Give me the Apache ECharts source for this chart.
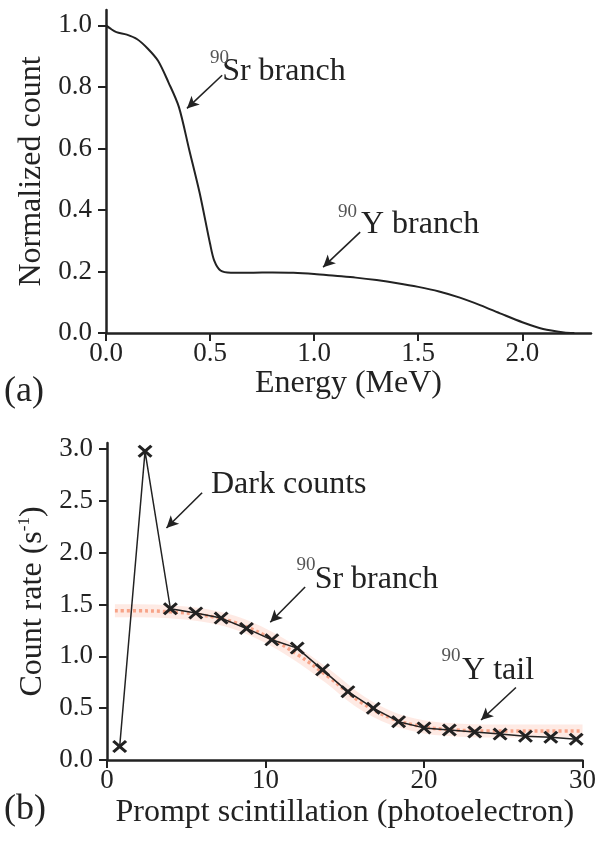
<!DOCTYPE html>
<html>
<head>
<meta charset="utf-8">
<script src="https://cdn.jsdelivr.net/npm/echarts@6/dist/echarts.min.js"></script>
<style>
  html, body { margin: 0; padding: 0; background: #fff; }
  #chart { width: 599px; height: 842px; }
</style>
</head>
<body>
<div id="chart"></div>
<script>
// (a) beta spectrum
const energy = [0, 0.02, 0.05, 0.1, 0.15, 0.2, 0.25, 0.3, 0.35, 0.4, 0.45, 0.5, 0.52, 0.55, 0.6, 0.7, 0.8, 0.9, 1.0, 1.1, 1.2, 1.3, 1.4, 1.5, 1.6, 1.7, 1.8, 1.9, 2.0, 2.1, 2.2, 2.25]
const normCount = [1.0, 0.99, 0.978, 0.97, 0.955, 0.925, 0.885, 0.815, 0.735, 0.595, 0.455, 0.29, 0.235, 0.203, 0.196, 0.196, 0.197, 0.196, 0.192, 0.186, 0.18, 0.172, 0.162, 0.15, 0.135, 0.115, 0.09, 0.062, 0.035, 0.013, 0.002, 0]
const energyTicks = [0, 0.5, 1.0, 1.5, 2.0]
const countTicks = [0, 0.2, 0.4, 0.6, 0.8, 1.0]

// (b) measured count rate
const pe = [0.8, 2.4, 4.0, 5.6, 7.2, 8.8, 10.4, 12.0, 13.6, 15.2, 16.8, 18.4, 20.0, 21.6, 23.2, 24.8, 26.4, 28.0, 29.6]
const rate = [0.13, 2.98, 1.46, 1.42, 1.37, 1.27, 1.16, 1.08, 0.87, 0.66, 0.50, 0.37, 0.31, 0.29, 0.27, 0.25, 0.23, 0.22, 0.20]
// fitted curve (orange band)
const fitX = [0.5, 2, 4, 6, 8, 10, 12, 14, 16, 18, 20, 22, 24, 26, 28, 30]
const fitY = [1.44, 1.44, 1.43, 1.40, 1.33, 1.20, 1.02, 0.80, 0.56, 0.40, 0.32, 0.29, 0.28, 0.28, 0.28, 0.28]
const rateTicks = [0, 0.5, 1.0, 1.5, 2.0, 2.5, 3.0]

// annotations: [grid, sup, text, textPos, supPos, arrowFrom, arrowTo]
const notes = [
  [0, '90', 'Sr branch', [0.558, 0.849], [0.50, 0.895], [0.558, 0.838], [0.389, 0.73]],
  [0, '90', 'Y branch', [1.225, 0.351], [1.115, 0.393], [1.221, 0.328], [1.043, 0.214]],
  [1, '', 'Dark counts', [6.56, 2.66], null, [6.0, 2.58], [3.75, 2.24]],
  [1, '90', 'Sr branch', [13.1, 1.74], [11.95, 1.885], [12.5, 1.67], [10.3, 1.33]],
  [1, '90', 'Y tail', [22.4, 0.86], [21.1, 1.005], [25.8, 0.70], [23.6, 0.386]]
]

const FONT = '"Liberation Serif", "DejaVu Serif", serif'
const INK = '#222'
const crossPath = 'path://M0,3 L3,0 L10,7 L17,0 L20,3 L13,10 L20,17 L17,20 L10,13 L3,20 L0,17 L7,10 Z'

const chart = echarts.init(document.getElementById('chart'))

const axisCommon = {
  axisLine: { show: true, onZero: false, lineStyle: { color: INK, width: 2.5 } },
  axisTick: { show: true, inside: false, length: 8, lineStyle: { color: INK, width: 2 } },
  splitLine: { show: false },
  nameLocation: 'middle',
  nameTextStyle: { fontFamily: FONT, fontSize: 32, color: INK }
}
const labelStyle = { fontFamily: FONT, fontSize: 27, color: INK }

const arrowLines = (g) => notes.filter(n => n[0] === g).map(n => [{ coord: n[5] }, { coord: n[6] }])

const option = {
  animation: false,
  grid: [
    { left: 106, top: 10, width: 485, height: 323 },
    { left: 107, top: 443, width: 480, height: 317 }
  ],
  xAxis: [
    Object.assign({}, axisCommon, {
      gridIndex: 0, type: 'value', min: 0, max: 2.33,
      name: 'Energy (MeV)', nameGap: 33,
      axisTick: Object.assign({}, axisCommon.axisTick, { customValues: energyTicks }),
      axisLabel: Object.assign({}, labelStyle, { customValues: energyTicks, margin: 7, formatter: v => v.toFixed(1) })
    }),
    Object.assign({}, axisCommon, {
      gridIndex: 1, type: 'value', min: 0, max: 30, interval: 10,
      name: 'Prompt scintillation (photoelectron)', nameGap: 37,
      axisLabel: Object.assign({}, labelStyle, { margin: 7, showMinLabel: true, showMaxLabel: true })
    })
  ],
  yAxis: [
    Object.assign({}, axisCommon, {
      gridIndex: 0, type: 'value', min: 0, max: 1.05,
      name: 'Normalized count', nameGap: 58,
      axisTick: Object.assign({}, axisCommon.axisTick, { customValues: countTicks }),
      axisLabel: Object.assign({}, labelStyle, { customValues: countTicks, margin: 14, formatter: v => v.toFixed(1) })
    }),
    Object.assign({}, axisCommon, {
      gridIndex: 1, type: 'value', min: 0, max: 3.06,
      name: '{n|Count rate (s}{s|-1}{n|)}', nameGap: 58,
      nameTextStyle: {
        fontFamily: FONT, fontSize: 32, color: INK,
        rich: {
          n: { fontFamily: FONT, fontSize: 32, color: INK },
          s: { fontFamily: FONT, fontSize: 17, color: INK, verticalAlign: 'top', padding: [0, 0, 10, 0] }
        }
      },
      axisTick: Object.assign({}, axisCommon.axisTick, { customValues: rateTicks }),
      axisLabel: Object.assign({}, labelStyle, { customValues: rateTicks, margin: 14, formatter: v => v.toFixed(1) })
    })
  ],
  series: [
    {
      type: 'line', xAxisIndex: 0, yAxisIndex: 0,
      data: energy.map((x, i) => [x, normCount[i]]),
      smooth: 0.3, showSymbol: false,
      lineStyle: { color: INK, width: 2 },
      markLine: {
        silent: true, symbol: ['none', 'arrow'], symbolSize: [9, 12],
        label: { show: false },
        lineStyle: { color: INK, width: 1.6, type: 'solid' },
        data: arrowLines(0)
      }
    },
    {
      type: 'line', xAxisIndex: 1, yAxisIndex: 1,
      data: fitX.map((x, i) => [x, fitY[i]]),
      smooth: 0.4, showSymbol: false,
      lineStyle: { color: 'rgba(250,160,130,0.22)', width: 13 }
    },
    {
      type: 'line', xAxisIndex: 1, yAxisIndex: 1,
      data: fitX.map((x, i) => [x, fitY[i]]),
      smooth: 0.4, showSymbol: false,
      lineStyle: { color: 'rgba(245,140,105,0.75)', width: 3.5, type: [3, 3] }
    },
    {
      type: 'line', xAxisIndex: 1, yAxisIndex: 1,
      data: pe.map((x, i) => [x, rate[i]]),
      symbol: crossPath, symbolSize: [15, 13],
      itemStyle: { color: INK },
      lineStyle: { color: INK, width: 1.5 },
      markLine: {
        silent: true, symbol: ['none', 'arrow'], symbolSize: [9, 12],
        label: { show: false },
        lineStyle: { color: INK, width: 1.6, type: 'solid' },
        data: arrowLines(1)
      }
    }
  ]
}
chart.setOption(option)

// annotation texts placed through the axes
const graphics = [
  { type: 'text', left: 4, top: 374, style: { text: '(a)', font: '36px ' + FONT, fill: INK } },
  { type: 'text', left: 4, top: 792, style: { text: '(b)', font: '36px ' + FONT, fill: INK } }
]
notes.forEach(n => {
  const p = chart.convertToPixel({ gridIndex: n[0] }, n[3])
  graphics.push({
    type: 'text', x: p[0], y: p[1],
    style: { text: n[2], font: '32px ' + FONT, fill: INK, verticalAlign: 'middle', align: 'left' }
  })
  if (n[4]) {
    const q = chart.convertToPixel({ gridIndex: n[0] }, n[4])
    graphics.push({
      type: 'text', x: q[0], y: q[1],
      style: { text: n[1], font: '19px ' + FONT, fill: '#555', verticalAlign: 'middle', align: 'left' }
    })
  }
})
chart.setOption({ graphic: graphics })
</script>
</body>
</html>
